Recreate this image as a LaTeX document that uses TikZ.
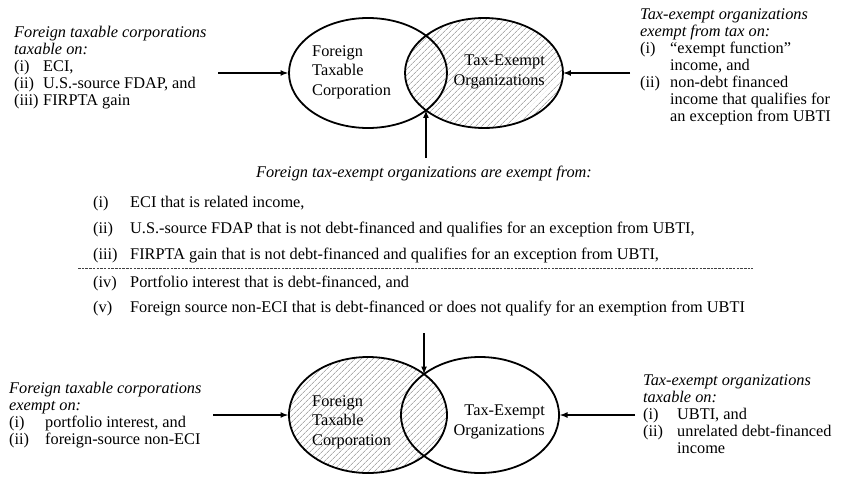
\documentclass[tikz,border=0pt]{standalone}
\usepackage{fontspec}
\setmainfont{Liberation Serif}
\usepackage{tikz}
\usetikzlibrary{shapes.geometric,intersections,patterns.meta}

\begin{document}
\begin{tikzpicture}[x=1pt,y=-1pt,
  every node/.style={font=\fontsize{16.3}{17}\selectfont, inner sep=0pt},
  venn/.style={draw, ellipse, line width=1.8pt, minimum width=158pt, minimum height=110pt},
  hatch/.style={pattern={Lines[angle=45,distance=4pt,line width=0.6pt]}, pattern color=black!50},
  arr/.style={->,>=latex,line width=1.6pt},
  note/.style={anchor=base west, align=left},
  sepline/.style={dash pattern=on 2.5pt off 1.2pt, line width=0.6pt, black!75}]

\useasboundingbox (0,0) rectangle (842,476);
\clip (0,0) rectangle (842,476);

% upper diagram: tax-exempt side hatched
\node[venn, hatch, name path=teoApath] (teoA) at (484,73) {};
\node[venn, name path=ftcApath] (ftcA) at (368,73) {};
\node[anchor=west, align=left, font=\fontsize{16.3}{19.5}\selectfont] (ftcAtext) at (312,72) {Foreign\\Taxable\\Corporation};
\node[anchor=east, align=right, font=\fontsize{16.3}{20.5}\selectfont] (teoAtext) at (545,72) {Tax-Exempt\\Organizations};
\path[name intersections={of=ftcApath and teoApath, by={meetAa,meetAb}}];

\node[note] (ftcnoteA) at (14,38) {\begin{tabular}[t]{@{}p{29pt}@{}l@{}}
\multicolumn{2}{@{}l@{}}{\itshape Foreign taxable corporations}\\
\multicolumn{2}{@{}l@{}}{\itshape taxable on:}\\
(i) & ECI,\\
(ii) & U.S.-source FDAP, and\\
(iii) & FIRPTA gain
\end{tabular}};

\node[note] (teonoteA) at (640,20) {\begin{tabular}[t]{@{}p{30pt}@{}l@{}}
\multicolumn{2}{@{}l@{}}{\itshape Tax-exempt organizations}\\
\multicolumn{2}{@{}l@{}}{\itshape exempt from tax on:}\\
(i) & “exempt function”\\
 & income, and\\
(ii) & non-debt financed\\
 & income that qualifies for\\
 & an exception from UBTI
\end{tabular}};

\coordinate (tlfoot) at (218,73);
\coordinate (trfoot) at (630,73);
\draw[arr] (tlfoot) -- (ftcA.west);
\draw[arr] (trfoot) -- (teoA.east);

% middle list
\node[font=\itshape\fontsize{16.3}{17}\selectfont] (midnote) at (424,173) {Foreign tax-exempt organizations are exempt from:};
\coordinate (upfoot) at (meetAb |- 0,158);
\draw[arr] (upfoot) -- (meetAb);

\node[note] (rowi) at (93,207) {\makebox[37pt][l]{(i)}ECI that is related income,};
\node[note] (rowii) at (93,233) {\makebox[37pt][l]{(ii)}U.S.-source FDAP that is not debt-financed and qualifies for an exception from UBTI,};
\node[note] (rowiii) at (93,259) {\makebox[37pt][l]{(iii)}FIRPTA gain that is not debt-financed and qualifies for an exception from UBTI,};
\draw[sepline] (78,268) -- (753,268);
\node[note] (rowiv) at (93,287) {\makebox[37pt][l]{(iv)}Portfolio interest that is debt-financed, and};
\node[note] (rowv) at (93,312) {\makebox[37pt][l]{(v)}Foreign source non-ECI that is debt-financed or does not qualify for an exemption from UBTI};

% lower diagram: corporation side hatched
\node[venn, hatch, minimum height=116pt, name path=ftcBpath] (ftcB) at (368,415) {};
\node[venn, minimum height=116pt, name path=teoBpath] (teoB) at (480,415) {};
\node[anchor=west, align=left, font=\fontsize{16.3}{19.5}\selectfont] (ftcBtext) at (312,422) {Foreign\\Taxable\\Corporation};
\node[anchor=east, align=right, font=\fontsize{16.3}{20}\selectfont] (teoBtext) at (545,422) {Tax-Exempt\\Organizations};
\path[name intersections={of=ftcBpath and teoBpath, by={meetBa,meetBb}}];

\coordinate (downfoot) at (meetBa |- 0,333);
\draw[arr] (downfoot) -- (meetBa);

\node[note] (ftcnoteB) at (9,393) {\begin{tabular}[t]{@{}p{36pt}@{}l@{}}
\multicolumn{2}{@{}l@{}}{\itshape Foreign taxable corporations}\\
\multicolumn{2}{@{}l@{}}{\itshape exempt on:}\\
(i) & portfolio interest, and\\
(ii) & foreign-source non-ECI
\end{tabular}};

\node[note] (teonoteB) at (643,385) {\begin{tabular}[t]{@{}p{34pt}@{}l@{}}
\multicolumn{2}{@{}l@{}}{\itshape Tax-exempt organizations}\\
\multicolumn{2}{@{}l@{}}{\itshape taxable on:}\\
(i) & UBTI, and\\
(ii) & unrelated debt-financed\\
 & income
\end{tabular}};

\coordinate (blfoot) at (213,415);
\coordinate (brfoot) at (635,415);
\draw[arr] (blfoot) -- (ftcB.west);
\draw[arr] (brfoot) -- (teoB.east);

\end{tikzpicture}
\end{document}
